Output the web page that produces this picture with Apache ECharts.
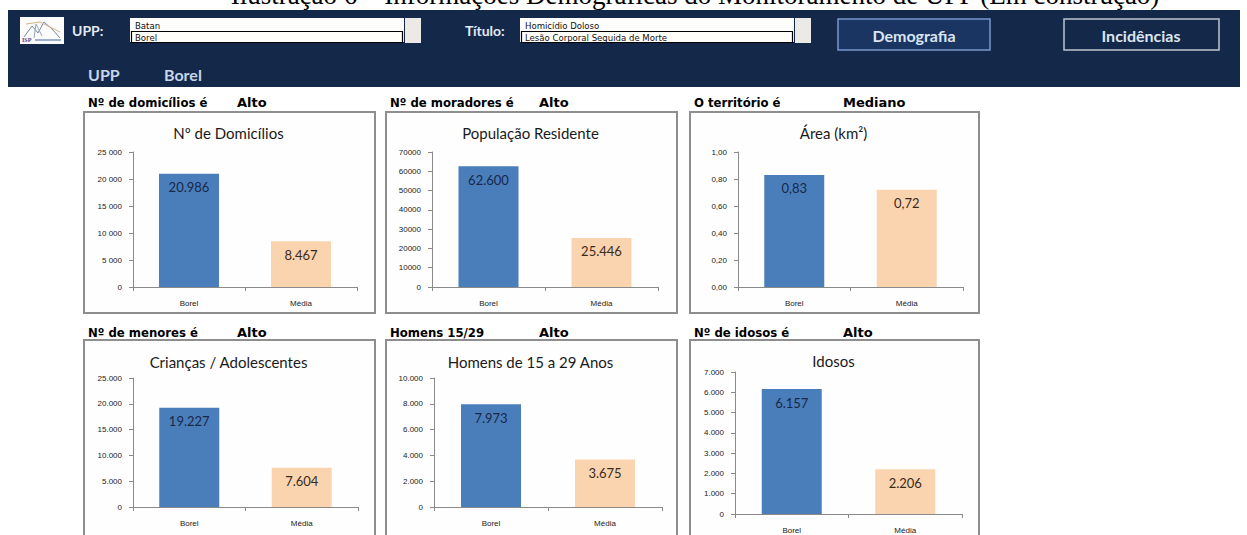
<!DOCTYPE html>
<html>
<head>
<meta charset="utf-8">
<script src="https://cdn.jsdelivr.net/npm/echarts@6/dist/echarts.min.js"></script>
<style>
html,body{margin:0;padding:0;background:#fff;}
#c{width:1247px;height:535px;}
</style>
</head>
<body>
<div id="c"></div>
<script>
// ---- data ----
const categories = ['Borel', 'Média'];
const domicilios = [20986, 8467];
const populacao = [62600, 25446];
const area = [0.83, 0.72];
const criancas = [19227, 7604];
const homens = [7973, 3675];
const idosos = [6157, 2206];
const chartTitles = ['Nº de Domicílios', 'População Residente', 'Área (km²)', 'Crianças / Adolescentes', 'Homens de 15 a 29 Anos', 'Idosos'];
const indicatorLabels = ['Nº de domicílios é', 'Nº de moradores é', 'O território é', 'Nº de menores é', 'Homens 15/29', 'Nº de idosos é'];
const levels = ['Alto', 'Alto', 'Mediano', 'Alto', 'Alto', 'Alto'];
const yMax = [25000, 70000, 1, 25000, 10000, 7000];
const yStep = [5000, 10000, 0.2, 5000, 2000, 1000];
const pageTitle = 'Ilustração 6 – Informações Demográficas do Monitoramento de UPP (Em construção)';
const uppOptions = ['Batan', 'Borel'];
const tituloOptions = ['Homicídio Doloso', 'Lesão Corporal Seguida de Morte'];
const buttons = ['Demografia', 'Incidências'];
const selectedUpp = 'Borel';

const seriesValues = [domicilios, populacao, area, criancas, homens, idosos];

// ---- formatters ----
const sep = (v, s) => String(Math.round(v)).replace(/\B(?=(\d{3})+(?!\d))/g, s);
const fmtSpace = v => sep(v, ' ');
const fmtDot = v => sep(v, '.');
const fmtPlain = v => String(Math.round(v));
const fmtDec = v => Number(v).toFixed(2).replace('.', ',');
const axisFmt = [fmtSpace, fmtPlain, fmtDec, fmtDot, fmtDot, fmtDot];
const labelFmt = [fmtDot, fmtDot, fmtDec, fmtDot, fmtDot, fmtDot];

// ---- layout / style ----
const gridPos = [
  {left:133, top:152, width:224, height:135},
  {left:432, top:152, width:226, height:135},
  {left:738, top:152, width:225, height:135},
  {left:133, top:378, width:225, height:129},
  {left:434, top:378, width:228, height:129},
  {left:735, top:372, width:227, height:142}
];
const panels = [
  {x:84, y:112, w:291, h:201}, {x:386, y:112, w:291, h:201}, {x:690, y:112, w:289, h:201},
  {x:84, y:340, w:291, h:210}, {x:386, y:340, w:291, h:210}, {x:690, y:340, w:289, h:210}
];
const titleY = [133, 133, 133, 362, 362, 361];
const labelY = [102, 102, 102, 332, 332, 332];
const barColors = ['#4a7ebb', '#fad4ae'];
const labelColors = ['#17284a', '#3a2a1c'];
const NAVY = '#14284a';

const txt = (x, y, text, font, fill, align, extra) => Object.assign({
  type: 'text', x: x, y: y, silent: true,
  style: {text: text, font: font, fill: fill, align: align || 'left', verticalAlign: 'middle'}
}, extra || {});

const g = [];
// page title (clipped at top, as in the source)
g.push({type:'text', x:695, y:8, style:{text:pageTitle, font:'27px "Liberation Serif", "DejaVu Serif", serif', fill:'#000', align:'center', verticalAlign:'bottom'}, z:1});
// header band
g.push({type:'rect', shape:{x:8, y:10, width:1232, height:77}, style:{fill:NAVY}, z:2});
// logo
g.push({type:'rect', shape:{x:20, y:17, width:44, height:27}, style:{fill:'#fbfbfb'}, z:3});
g.push({type:'polyline', shape:{points:[[24,37],[32,26],[38,33],[44,22],[52,29],[60,38]]}, style:{stroke:'#7a8aa0', lineWidth:1, fill:null}, z:4});
g.push({type:'polyline', shape:{points:[[26,24],[40,22],[60,32]]}, style:{stroke:'#d4b48a', lineWidth:1, fill:null}, z:4});
g.push({type:'polyline', shape:{points:[[34,38],[36,24],[42,36]]}, style:{stroke:'#9aa6b8', lineWidth:1, fill:null}, z:4});
g.push(Object.assign(txt(22, 40, 'ISP', 'bold 6px "Liberation Serif", serif', '#2a4f9a'), {z:5}));
g.push({type:'rect', shape:{x:35, y:39, width:26, height:2}, style:{fill:'#9fb0cc'}, z:5});
// UPP selector
g.push(Object.assign(txt(72, 30, 'UPP:', 'bold 14px Lato, "Open Sans", sans-serif', '#e3e9f2'), {z:5}));
g.push({type:'rect', shape:{x:130, y:18, width:274, height:24}, style:{fill:'#fdfdfb'}, z:3});
g.push({type:'rect', shape:{x:405, y:18, width:16, height:25}, style:{fill:'#eceae6'}, z:3});
g.push({type:'rect', shape:{x:131.5, y:31.5, width:271, height:11}, style:{fill:'#fffef8', stroke:'#000', lineWidth:1.2}, z:4});
g.push(Object.assign(txt(135, 25, uppOptions[0], '9.5px "DejaVu Sans Condensed", "Liberation Sans Narrow", sans-serif', '#111'), {z:5}));
g.push(Object.assign(txt(135, 37, uppOptions[1], '9.5px "DejaVu Sans Condensed", "Liberation Sans Narrow", sans-serif', '#111'), {z:5}));
// Titulo selector
g.push(Object.assign(txt(465, 30, 'Título:', 'bold 14px Lato, "Open Sans", sans-serif', '#e3e9f2'), {z:5}));
g.push({type:'rect', shape:{x:520, y:18, width:274, height:24}, style:{fill:'#fdfdfb'}, z:3});
g.push({type:'rect', shape:{x:795, y:18, width:16, height:25}, style:{fill:'#eceae6'}, z:3});
g.push({type:'rect', shape:{x:521.5, y:31.5, width:271, height:11}, style:{fill:'#fffef8', stroke:'#000', lineWidth:1.2}, z:4});
g.push(Object.assign(txt(525, 25, tituloOptions[0], '9.5px "DejaVu Sans Condensed", "Liberation Sans Narrow", sans-serif', '#111'), {z:5}));
g.push(Object.assign(txt(525, 37, tituloOptions[1], '9.5px "DejaVu Sans Condensed", "Liberation Sans Narrow", sans-serif', '#111'), {z:5}));
// buttons
g.push({type:'rect', shape:{x:838, y:19, width:152, height:31}, style:{fill:'#1b3562', stroke:'#7897cc', lineWidth:1.5}, z:3});
g.push(Object.assign(txt(914, 35, buttons[0], 'bold 16px Lato, "Open Sans", sans-serif', '#dbe4f1', 'center'), {z:5}));
g.push({type:'rect', shape:{x:1064, y:19, width:155, height:31}, style:{fill:NAVY, stroke:'#bcc4d0', lineWidth:1.5}, z:3});
g.push(Object.assign(txt(1141, 35, buttons[1], 'bold 16px Lato, "Open Sans", sans-serif', '#dbe4f1', 'center'), {z:5}));
// UPP Borel
g.push(Object.assign(txt(88, 74, 'UPP', 'bold 16px Lato, "Open Sans", sans-serif', '#c8d4e8'), {z:5}));
g.push(Object.assign(txt(164, 74, selectedUpp, 'bold 16px Lato, "Open Sans", sans-serif', '#c8d4e8'), {z:5}));

// panels, indicator labels, chart titles
panels.forEach((p, i) => {
  g.push({type:'rect', shape:{x:p.x, y:p.y, width:p.w, height:p.h}, style:{fill:'#fefefe', stroke:'#8e8e8e', lineWidth:2}, z:-10});
  g.push(txt(p.x + 4, labelY[i], indicatorLabels[i], 'bold 13px "Liberation Sans Narrow", "DejaVu Sans Condensed", sans-serif', '#000'));
  g.push(txt(p.x + 153, labelY[i], levels[i], 'bold 13px "DejaVu Sans", sans-serif', '#000'));
  g.push(txt(p.x + p.w / 2 - 1, titleY[i], chartTitles[i], '15px Lato, "Open Sans", sans-serif', '#1a1a1a', 'center'));
});

const axisLineStyle = {color:'#8a8a8a', width:1};
const option = {
  backgroundColor: '#fff',
  animation: false,
  grid: gridPos.map(p => Object.assign({containLabel:false}, p)),
  xAxis: gridPos.map((p, i) => ({
    type:'category', gridIndex:i, data:categories,
    axisLine:{show:true, lineStyle:axisLineStyle},
    axisTick:{show:true, length:4, lineStyle:axisLineStyle},
    axisLabel:{fontSize:8, fontFamily:'"Liberation Sans", sans-serif', color:'#222', margin:12}
  })),
  yAxis: gridPos.map((p, i) => ({
    type:'value', gridIndex:i, min:0, max:yMax[i], interval:yStep[i],
    axisLine:{show:true, lineStyle:axisLineStyle},
    axisTick:{show:true, length:4, lineStyle:axisLineStyle},
    splitLine:{show:false},
    axisLabel:{fontSize:8, fontFamily:'"Liberation Sans", sans-serif', color:'#222', margin:11, formatter:axisFmt[i]}
  })),
  series: seriesValues.map((vals, i) => ({
    type:'bar', xAxisIndex:i, yAxisIndex:i, barWidth:60,
    data: vals.map((v, k) => ({
      value:v,
      itemStyle:{color:barColors[k]},
      label:{color:labelColors[k]}
    })),
    label:{show:true, position:'insideTop', distance:7, fontSize:13, fontFamily:'Lato, "Open Sans", sans-serif',
      formatter: (p) => labelFmt[i](p.value)}
  })),
  graphic: g
};

const chart = echarts.init(document.getElementById('c'), null, {renderer:'svg', width:1247, height:535});
chart.setOption(option);
</script>
</body>
</html>
